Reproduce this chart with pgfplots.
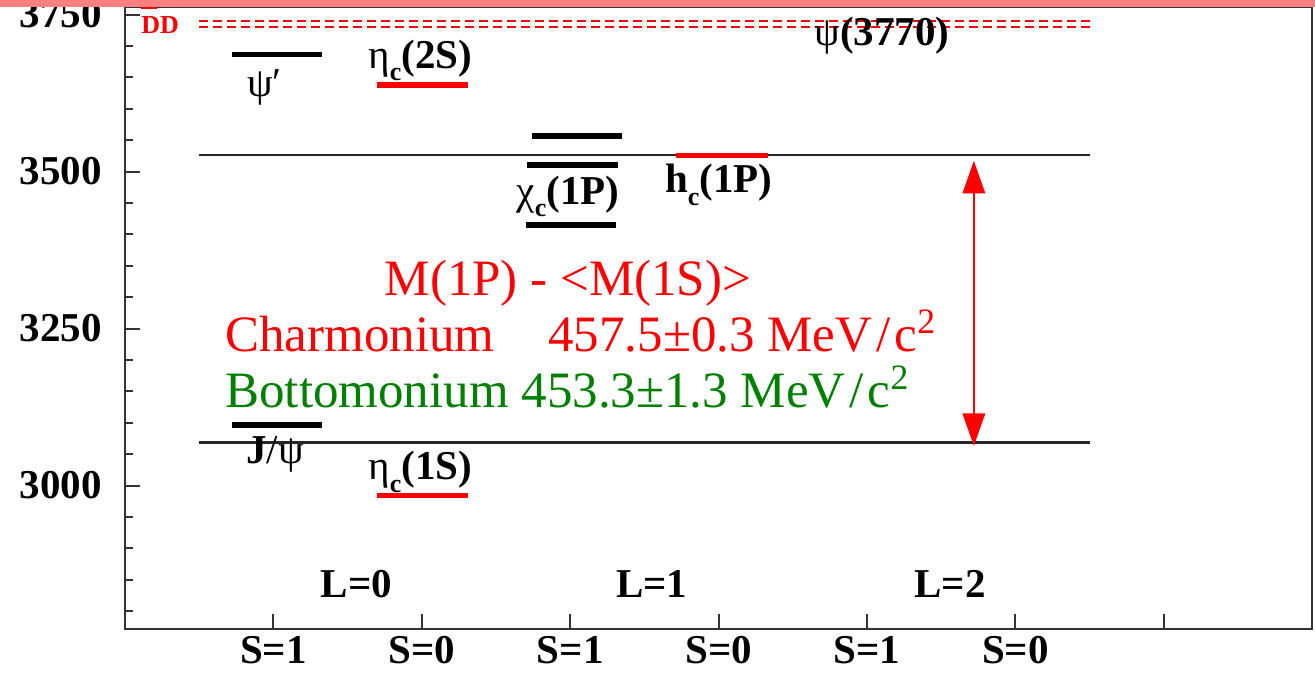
\documentclass[border=0pt]{standalone}
\usepackage{fontspec}
\setmainfont{Liberation Serif}
\usepackage{pgfplots}
\pgfplotsset{compat=1.18}
\usetikzlibrary{arrows.meta}
\definecolor{lvred}{RGB}{255,0,0}
\definecolor{lvgreen}{RGB}{0,128,0}
\definecolor{band}{RGB}{255,128,128}

\newcommand{\lbl}{\fontsize{20.5}{24}\selectfont}
\newcommand{\anno}{\fontsize{25.5}{30}\selectfont}
\newcommand{\sub}[1]{\raisebox{-0.3em}{\fontsize{13}{13}\selectfont\bfseries #1}}
\newcommand{\unit}{MeV\hspace{0.08em}/\hspace{0.08em}c\textsuperscript{2}}

\begin{document}
\begin{tikzpicture}
\begin{axis}[
  name=ax, at={(0,0)}, anchor=south west,
  x=74.2pt, y=0.314pt,
  xmin=0, xmax=8, ymin=2771.5, ymax=3762,
  axis line style={black!80, line width=1.2pt},
  tick align=inside, xtick pos=bottom, ytick pos=left,
  major tick length=7.5pt, minor tick length=4pt,
  tick style={black!80, line width=1pt},
  xtick={1,2,3,4,5,6,7},
  xticklabels={S=1,S=0,S=1,S=0,S=1,S=0,{}},
  ytick={3000,3250,3500,3750},
  minor ytick={2800,2850,2900,2950,3050,3100,3150,3200,3300,3350,3400,3450,3550,3600,3650,3700},
  tick label style={font=\bfseries\lbl},
  /pgf/number format/assume math mode=true,
  /pgf/number format/1000 sep={},
  scaled y ticks=false,
  yticklabel style={xshift=-8.2pt},
  clip=false,
  level/.style={line width=2.85pt},
]
% spin-averaged reference lines: <M(1S)> and M(1P)
\addplot[black!85, line width=1.2pt] coordinates {(0.5,3068.5) (6.5,3068.5)};
\addplot[black!85, line width=1.2pt] coordinates {(0.5,3526) (6.5,3526)};
% open-charm thresholds
\addplot[lvred, line width=1pt, dash pattern=on 4.5pt off 2.5pt] coordinates {(0.5,3729.7) (6.5,3729.7)};
\addplot[lvred, line width=1pt, dash pattern=on 4.5pt off 2.5pt] coordinates {(0.5,3739.3) (6.5,3739.3)};
% L=0, S=1
\addplot[black, level] coordinates {(0.72,3096.9) (1.33,3096.9)};
\addplot[black, level] coordinates {(0.72,3686.1) (1.33,3686.1)};
% L=0, S=0
\addplot[lvred, level] coordinates {(1.70,2983.9) (2.31,2983.9)};
\addplot[lvred, level] coordinates {(1.70,3637.5) (2.31,3637.5)};
% L=1, S=1
\addplot[black, level] coordinates {(2.74,3556.2) (3.35,3556.2)};
\addplot[black, level] coordinates {(2.71,3510.7) (3.32,3510.7)};
\addplot[black, level] coordinates {(2.70,3414.7) (3.31,3414.7)};
% L=1, S=0
\addplot[lvred, level] coordinates {(3.71,3525.4) (4.33,3525.4)};
% 1P - 1S splitting
\addplot[lvred, line width=0.8pt, {Triangle[width=11.3pt,length=16.3pt]}-{Triangle[width=11.3pt,length=16.3pt]}] coordinates {(5.72,3063) (5.72,3517)};

% state labels
\begin{scope}[every node/.style={inner sep=0pt, font=\lbl}]
\node[anchor=base] at (axis cs:0.94,3620) {ψ′};
\node[anchor=base] at (axis cs:1.99,3664.8) {η\sub{c}{\bfseries(2S)}};
\node[anchor=base] at (axis cs:2.985,3448.2) {χ\sub{c}{\bfseries(1P)}};
\node[anchor=base] at (axis cs:4.0,3465.8) {{\bfseries h}\sub{c}{\bfseries(1P)}};
\node[anchor=base] at (axis cs:1.01,3035.8) {{\bfseries J}/ψ};
\node[anchor=base] at (axis cs:1.99,3008.8) {η\sub{c}{\bfseries(1S)}};
\node[anchor=base] at (axis cs:5.10,3701.4) {ψ{\bfseries(3770)}};
\node[anchor=base, font=\bfseries\lbl] at (axis cs:1.56,2820.9) {L=0};
\node[anchor=base, font=\bfseries\lbl] at (axis cs:3.55,2820.9) {L=1};
\node[anchor=base, font=\bfseries\lbl] at (axis cs:5.56,2820.9) {L=2};
\node[anchor=base west, text=lvred, font=\bfseries\fontsize{13}{14}\selectfont] at (axis cs:0.108,3720.5)
  {\makebox[0pt][l]{\rule[12pt]{8pt}{1.3pt}}DD};
\end{scope}

% splitting annotation
\begin{scope}[every node/.style={inner sep=0pt, font=\anno}]
\node[anchor=base, text=lvred] at (axis cs:2.985,3302.5) {M(1P) - <M(1S)>};
\node[anchor=base west, text=lvred] at (axis cs:0.674,3213.4) {Charmonium};
\node[anchor=base west, text=lvred] at (axis cs:2.85,3213.4) {457.5±0.3 \unit};
\node[anchor=base west, text=lvgreen] at (axis cs:0.674,3124.2) {Bottomonium 453.3±1.3 \unit};
\end{scope}
\end{axis}
\pgfresetboundingbox
\fill[band] ([shift={(-62.5pt,311pt)}]ax.south west) rectangle ([shift={(595pt,314.5pt)}]ax.south west);
\path[use as bounding box] ([shift={(-62.5pt,-23.5pt)}]ax.south west) rectangle ([shift={(595pt,314.5pt)}]ax.south west);
\end{tikzpicture}
\end{document}
